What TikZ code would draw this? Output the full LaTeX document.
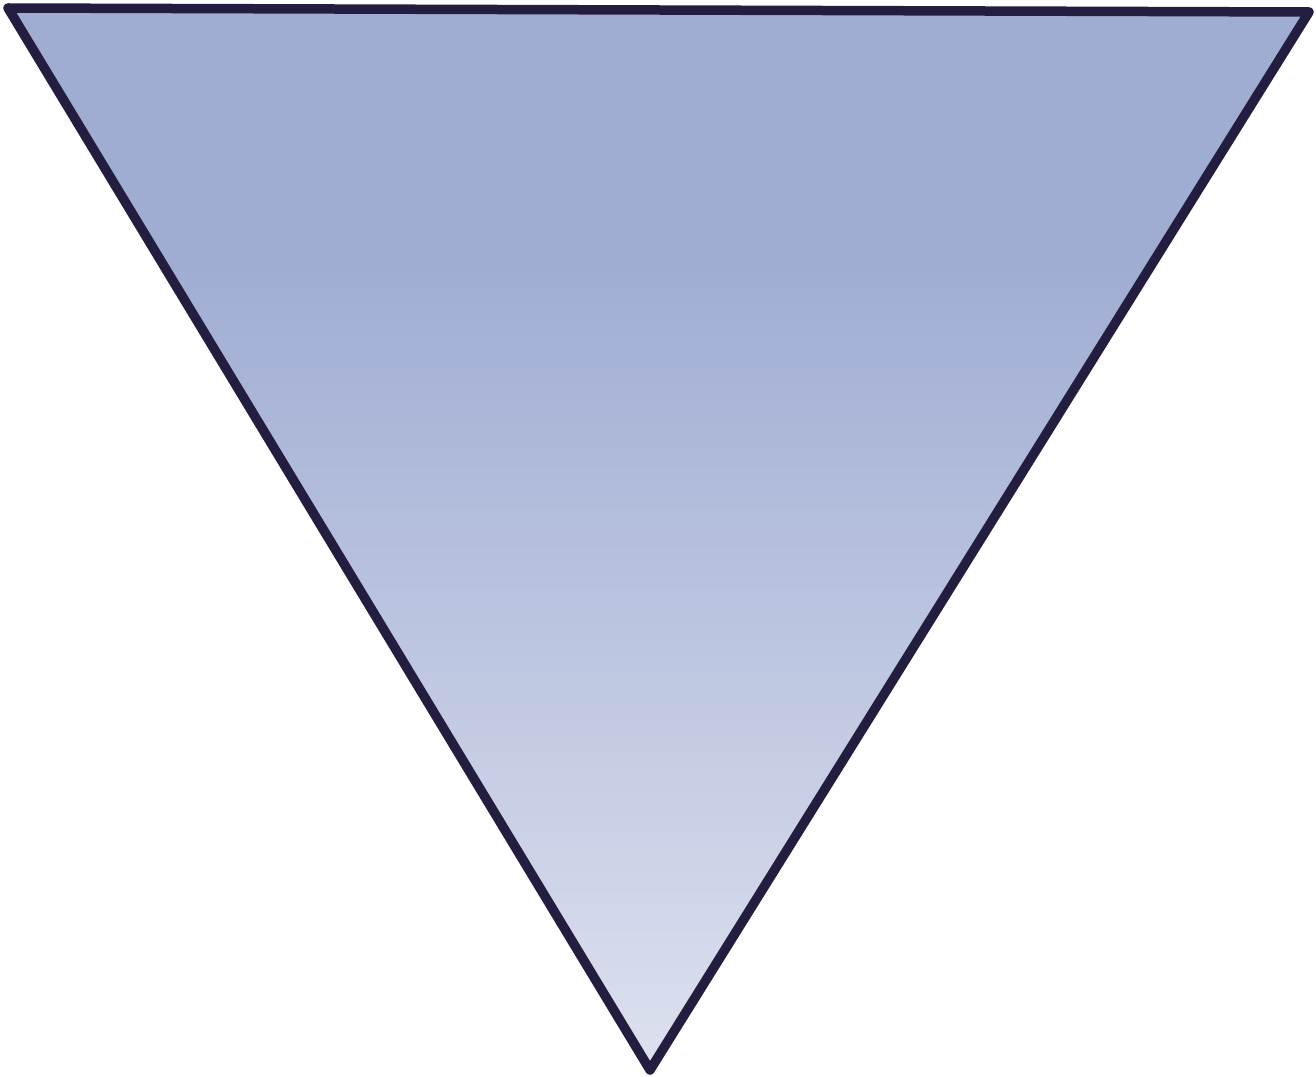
\documentclass[tikz,border=0pt]{standalone}
\usepackage{tikz}

\definecolor{triTop}{RGB}{160,173,211}
\definecolor{triBottom}{RGB}{221,225,239}
\definecolor{triEdge}{RGB}{35,30,64}

% vertikaler Verlauf: oben kraeftig, unten hell
\pgfdeclareverticalshading{triFade}{100bp}{%
  color(0bp)=(triBottom); color(25bp)=(triBottom);
  color(63bp)=(triTop); color(100bp)=(triTop)}

\begin{document}
\begin{tikzpicture}[
    scale=1.0,
    line join=round,
    line cap=round
]

% ============================================================
% Rahmen (Bildgrösse 1316 x 1077 px, 1 px = 0.01 cm)
% ============================================================
\useasboundingbox (0,0) rectangle (13.16,-10.77);

% ============================================================
% Eckpunkte des Dreiecks
% ============================================================
\coordinate (TopLeft) at (0.08,-0.08);
\coordinate (TopRight) at (13.09,-0.12);
\coordinate (Tip) at (6.50,-10.70);

% ============================================================
% Dreieck mit Verlauf
% ============================================================
\shade[shading=triFade]
    (TopLeft) -- (TopRight) -- (Tip) -- cycle;
\draw[triEdge, line width=0.095cm]
    (TopLeft) -- (TopRight) -- (Tip) -- cycle;

\end{tikzpicture}
\end{document}
